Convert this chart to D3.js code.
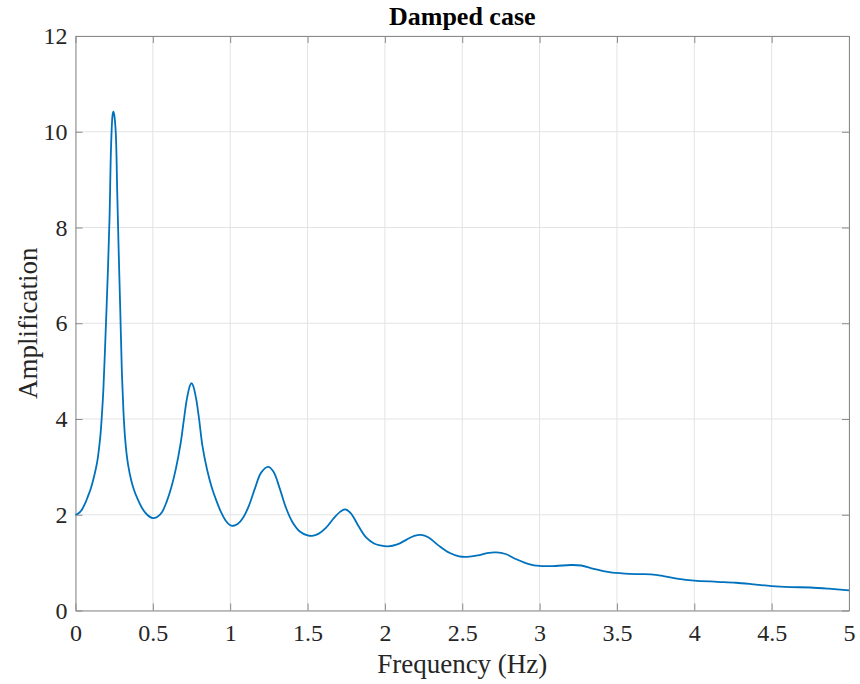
<!DOCTYPE html>
<html>
<head>
<meta charset="utf-8">
<script src="https://cdn.jsdelivr.net/npm/d3@7"></script>
<style>
  body { margin: 0; background: #fff; }
  svg { display: block; }
</style>
</head>
<body>
<svg class="ampChart" width="860" height="684"></svg>
<script>
// values
var freq = [0, 0.02, 0.04, 0.06, 0.08, 0.10, 0.12, 0.14, 0.15, 0.16, 0.17, 0.18, 0.19, 0.20, 0.21, 0.22, 0.23, 0.24, 0.245,
  0.25, 0.26, 0.27, 0.28, 0.29, 0.30, 0.31, 0.32, 0.33, 0.34, 0.36, 0.38, 0.40, 0.43, 0.46, 0.50,
  0.53, 0.56, 0.59, 0.62, 0.65, 0.68, 0.70, 0.72, 0.74, 0.75, 0.76, 0.78, 0.80, 0.82, 0.85, 0.88, 0.91, 0.94, 0.97, 1.00, 1.02,
  1.05, 1.08, 1.12, 1.16, 1.20, 1.245, 1.28, 1.32, 1.36, 1.40, 1.45, 1.50, 1.53,
  1.57, 1.62, 1.67, 1.71, 1.745, 1.78, 1.83, 1.88, 1.93, 1.97, 2.02,
  2.08, 2.14, 2.19, 2.235, 2.28, 2.35, 2.42, 2.48, 2.53, 2.60, 2.66, 2.72, 2.78, 2.85, 2.93, 3.00,
  3.10, 3.20, 3.27, 3.35, 3.45, 3.55, 3.65, 3.72, 3.80, 3.90, 4.00, 4.15, 4.27, 4.40, 4.50, 4.62, 4.75, 4.87, 5.00];
var amp = [2.00, 2.03, 2.10, 2.22, 2.38, 2.56, 2.80, 3.10, 3.33, 3.62, 4.05, 4.60, 5.40, 6.25, 7.15, 8.20, 9.70, 10.36, 10.42,
  10.36, 10.00, 8.70, 7.40, 6.20, 4.95, 4.15, 3.62, 3.28, 3.04, 2.72, 2.50, 2.34, 2.14, 2.01, 1.93,
  1.96, 2.06, 2.28, 2.58, 2.98, 3.50, 3.97, 4.42, 4.70, 4.75, 4.70, 4.42, 3.97, 3.45, 2.95, 2.58, 2.30, 2.06, 1.88, 1.78, 1.77,
  1.81, 1.92, 2.18, 2.55, 2.88, 3.00, 2.90, 2.55, 2.15, 1.86, 1.65, 1.57, 1.56,
  1.60, 1.73, 1.93, 2.06, 2.11, 2.03, 1.76, 1.52, 1.40, 1.36, 1.34,
  1.38, 1.48, 1.56, 1.58, 1.53, 1.35, 1.20, 1.13, 1.12, 1.15, 1.20, 1.215, 1.18, 1.07, 0.97, 0.93,
  0.93, 0.95, 0.94, 0.87, 0.80, 0.77, 0.76, 0.755, 0.72, 0.66, 0.625, 0.60, 0.58, 0.54, 0.51, 0.49, 0.48, 0.455, 0.42];
var xTicks = [0, 0.5, 1, 1.5, 2, 2.5, 3, 3.5, 4, 4.5, 5];
var yTicks = [0, 2, 4, 6, 8, 10, 12];

var serif = '"Times New Roman", "Liberation Serif", serif';
var margin = { top: 36, right: 11, bottom: 73.5, left: 75.5 };
var width = 860 - margin.left - margin.right;
var height = 684 - margin.top - margin.bottom;

var svg = d3.select('svg.ampChart');
var g = svg.append('g')
  .attr('transform', 'translate(' + margin.left + ',' + margin.top + ')');

var x = d3.scaleLinear().domain([0, 5]).range([0, width]);
var y = d3.scaleLinear().domain([0, 12]).range([height, 0]);

// grid
g.append('g')
  .selectAll('line')
  .data(xTicks)
  .enter()
  .append('line')
  .attr('x1', function(d) { return x(d); })
  .attr('x2', function(d) { return x(d); })
  .attr('y1', 0)
  .attr('y2', height)
  .attr('stroke', '#e3e3e3');
g.append('g')
  .selectAll('line')
  .data(yTicks)
  .enter()
  .append('line')
  .attr('y1', function(d) { return y(d); })
  .attr('y2', function(d) { return y(d); })
  .attr('x1', 0)
  .attr('x2', width)
  .attr('stroke', '#e3e3e3');

var fmt = function(d) { return String(d); };

var axes = [
  g.append('g')
    .attr('transform', 'translate(0,' + height + ')')
    .call(d3.axisBottom(x).tickValues(xTicks).tickFormat(fmt).tickSizeInner(-7).tickSizeOuter(0).tickPadding(13)),
  g.append('g')
    .call(d3.axisTop(x).tickValues(xTicks).tickFormat('').tickSizeInner(-7).tickSizeOuter(0)),
  g.append('g')
    .call(d3.axisLeft(y).tickValues(yTicks).tickFormat(fmt).tickSizeInner(-7).tickSizeOuter(0).tickPadding(8)),
  g.append('g')
    .attr('transform', 'translate(' + width + ',0)')
    .call(d3.axisRight(y).tickValues(yTicks).tickFormat('').tickSizeInner(-7).tickSizeOuter(0))
];

axes.forEach(function(a) {
  a.attr('font-family', serif);
  a.selectAll('path, line').attr('stroke', '#8a8a8a');
  a.selectAll('text')
    .style('font-family', serif)
    .style('font-size', '24px')
    .attr('fill', '#262626');
});

// curve
var pts = freq.map(function(f, i) { return [f, amp[i]]; });
var line = d3.line()
  .x(function(d) { return x(d[0]); })
  .y(function(d) { return y(d[1]); })
  .curve(d3.curveCatmullRom.alpha(0.5));

g.append('path')
  .datum(pts)
  .attr('fill', 'none')
  .attr('stroke', '#0072BD')
  .attr('stroke-width', 1.8)
  .attr('d', line);

// labels
svg.append('text')
  .attr('x', margin.left + width / 2)
  .attr('y', 25)
  .attr('text-anchor', 'middle')
  .style('font-family', serif)
  .style('font-size', '26px')
  .style('font-weight', 'bold')
  .attr('fill', '#000')
  .text('Damped case');

svg.append('text')
  .attr('x', margin.left + width / 2)
  .attr('y', 673)
  .attr('text-anchor', 'middle')
  .style('font-family', serif)
  .style('font-size', '27px')
  .attr('fill', '#262626')
  .text('Frequency (Hz)');

svg.append('text')
  .attr('transform', 'translate(37,' + (margin.top + height / 2) + ') rotate(-90)')
  .attr('text-anchor', 'middle')
  .style('font-family', serif)
  .style('font-size', '27px')
  .attr('fill', '#262626')
  .text('Amplification');
</script>
</body>
</html>
